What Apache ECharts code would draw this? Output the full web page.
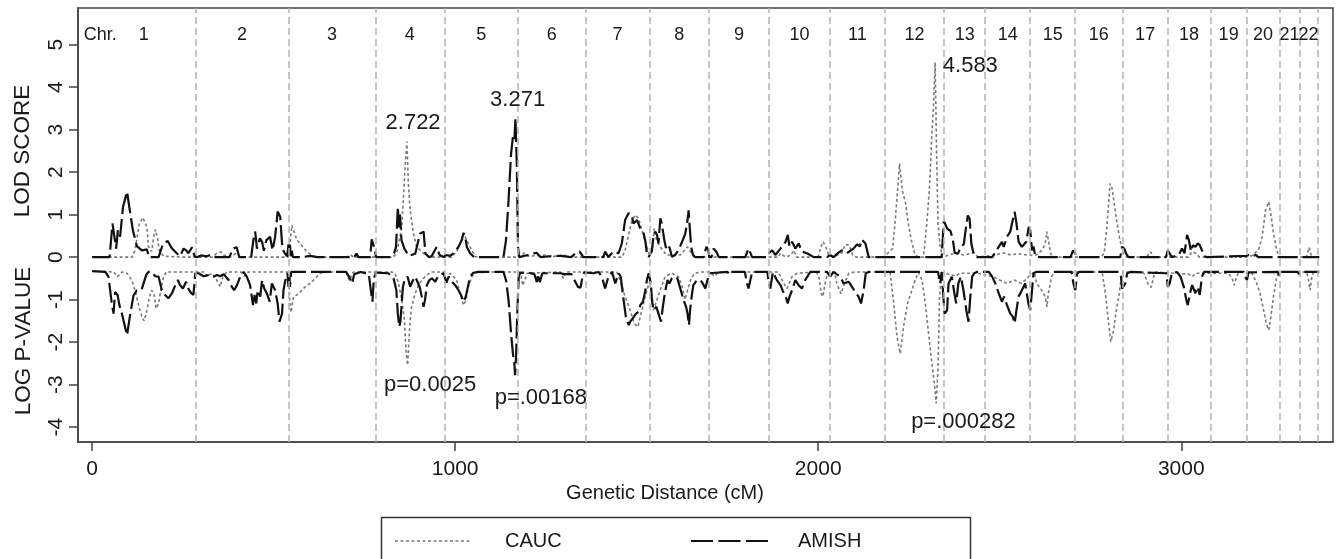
<!DOCTYPE html>
<html>
<head>
<meta charset="utf-8">
<style>
html,body{margin:0;padding:0;background:#fff;}
#chart{width:1339px;height:559px;}
</style>
<script src="https://cdn.jsdelivr.net/npm/echarts@6/dist/echarts.min.js"></script>
</head>
<body>
<div id="chart"></div>
<script>
// ---------- DATA ----------
const chrNames = ['1','2','3','4','5','6','7','8','9','10','11','12','13','14','15','16','17','18','19','20','21','22'];
// chromosome end positions (cM)
const chrBounds = [284,542,780,970,1173,1359,1535,1699,1864,2033,2183,2347,2460,2584,2708,2838,2963,3080,3181,3270,3326,3375];
const chrTitle = ['Chr.', 22];

const xTicks = [0,1000,2000,3000];
const yTicks = [-4,-3,-2,-1,0,1,2,3,4,5];
const seriesNames = ['CAUC', 'AMISH'];

// LOD score, AMISH
const amishLod = [
[0,0],[48,0],[56,0.79],[62,0.44],[66,0.2],[71,0.64],[77,0.48],[85,1.18],[96,1.54],[105,1.03],[112,0.64],[123,0.26],[137,0.16],[151,0.18],[156,0],[183,0],[195,0.31],[208,0.38],[220,0.2],[233,0.09],[242,0.02],[252,0.2],[259,0.16],[265,0.09],[275,0.23],[282,0.02],
[290,0],[300,0.04],[315,0.02],[330,0.06],[340,0],[378,0],[388,0.2],[398,0.23],[405,0],[438,0],[444,0.4],[449,0.6],[454,0.2],[462,0.44],[468,0.36],[473,0.15],[480,0.4],[490,0.48],[497,0.16],[504,0.48],[511,1.07],[518,0.95],[524,0.2],[530,0.1],[537,0.02],[541,0.3],[543,0.05],[545,0.28],[547,0.02],[550,0.15],[553,0],
[580,0],[600,0.03],[620,0],[700,0],[722,0],[728,0.08],[734,0],[766,0],[770,0.42],[774,0.45],[778,0.2],[782,0],
[820,0],[832,0.1],[837,0.24],[842,1.18],[845,0.7],[848,1.0],[852,0.4],[860,0.2],[872,0.03],[890,0.08],[903,0.55],[913,0.6],[918,0.08],[928,0],[935,0.02],[949,0.24],[957,0.05],[968,0],
[975,0.05],[986,0.03],[997,0.1],[1009,0.24],[1018,0.4],[1023,0.57],[1027,0.5],[1032,0.24],[1041,0.09],[1052,0],[1133,0],[1140,0.4],[1147,1.34],[1154,2.44],[1159,2.83],[1163,2.75],[1166,3.27],[1170,2.1],[1173,0.24],[1176,0],
[1200,0.05],[1210,0.08],[1225,0.1],[1235,0],[1260,0.02],[1290,0.03],[1320,0],[1332,0.1],[1343,0.13],[1353,0],
[1408,0],[1413,0.13],[1422,0],[1436,0.13],[1450,0.09],[1459,0.32],[1468,0.87],[1478,1.04],[1487,0.95],[1491,0.79],[1501,0.87],[1510,0.67],[1514,0.71],[1519,0.56],[1524,0.36],[1528,0.09],[1533,0],
[1542,0.16],[1546,0.48],[1551,0.6],[1556,0.52],[1560,0.32],[1565,0.91],[1569,0.79],[1576,0.4],[1582,0.16],[1585,0.13],[1590,0.24],[1597,0.01],[1606,0.05],[1615,0.16],[1625,0.36],[1634,0.56],[1640,0.87],[1643,1.1],[1646,0.71],[1650,0.24],[1655,0.05],[1661,0],[1684,0],[1692,0.24],[1697,0.18],[1700,0],
[1706,0],[1712,0.2],[1719,0.13],[1726,0],[1799,0],[1808,0.2],[1818,0],[1858,0],
[1864,0.09],[1873,0.16],[1882,0.05],[1896,0.2],[1910,0.36],[1916,0.52],[1921,0.24],[1928,0.36],[1937,0.2],[1946,0.32],[1955,0.13],[1969,0.09],[1988,0],[2024,0],[2033,0.05],
[2042,0],[2055,0.1],[2065,0.16],[2079,0.09],[2090,0.16],[2097,0.2],[2107,0.3],[2115,0.25],[2120,0.41],[2130,0.32],[2139,0],[2180,0],[2340,0],
[2344,0],[2346,0.85],[2350,0.83],[2356,0.66],[2364,0.62],[2370,0.45],[2376,0.1],[2385,0.08],[2393,0.25],[2401,0.3],[2407,0.7],[2412,0.98],[2417,0.9],[2422,0.3],[2428,0.08],[2437,0],[2480,0],
[2483,0.05],[2497,0.24],[2506,0.36],[2511,0.24],[2520,0.48],[2529,0.6],[2536,0.87],[2541,1.07],[2546,0.8],[2552,0.36],[2561,0.24],[2573,0.36],[2580,0.71],[2584,0.63],[2589,0.16],[2593,0.25],[2598,0.02],[2610,0],
[2695,0],[2702,0.16],[2707,0.1],[2712,0],
[2832,0],[2837,0.24],[2843,0.2],[2850,0.05],[2855,0],
[2958,0],[2963,0.16],[2968,0.13],[2974,0],[2993,0.05],[3002,0.2],[3009,0.09],[3016,0.52],[3021,0.4],[3027,0.13],[3032,0.28],[3039,0.24],[3045,0.32],[3051,0.28],[3057,0.16],[3063,0.02],[3071,0],
[3180,0.03],[3186,0.05],[3195,0.02],[3205,0.05],[3212,0],[3380,0]
];

// LOD score, CAUC
const caucLod = [
[0,0],[110,0],[118,0.16],[130,0.79],[140,0.93],[151,0.7],[155,0.25],[164,0.13],[170,0.5],[174,0.65],[180,0.45],[185,0.15],[197,0.02],[250,0],
[330,0],[345,0.1],[355,0.12],[362,0.05],[380,0],[395,0.08],[410,0],[540,0],[545,0.3],[550,0.75],[556,0.6],[564,0.4],[573,0.32],[591,0.13],[610,0.02],[620,0],
[700,0],[712,0.05],[720,0],
[830,0],[839,0.1],[853,0.71],[862,2.13],[867,2.72],[871,1.73],[876,1.1],[885,0.56],[894,0.24],[912,0.09],[931,0],
[990,0],[1004,0.13],[1018,0.4],[1027,0.48],[1041,0.24],[1055,0.01],[1080,0],
[1180,0],[1190,0.1],[1200,0.02],[1250,0.05],[1260,0],[1300,0.05],[1310,0],[1360,0],
[1460,0],[1468,0.16],[1487,0.87],[1496,0.99],[1505,0.91],[1514,0.64],[1524,0.36],[1533,0.09],
[1542,0.08],[1548,0.67],[1551,0.48],[1565,0.24],[1582,0.05],[1620,0.05],[1640,0.24],[1650,0.1],[1660,0],
[1890,0],[1896,0.09],[1910,0],[1925,0.05],[1933,0.16],[1940,0],[2000,0],[2006,0.2],[2013,0.36],[2019,0.28],[2029,0.05],
[2040,0],[2065,0.1],[2075,0.3],[2085,0.28],[2095,0.05],[2105,0],
[2180,0],[2205,0.2],[2213,0.95],[2224,2.2],[2232,1.55],[2240,1.3],[2248,0.8],[2255,0.45],[2265,0.1],[2274,0],[2290,0],[2299,0.79],[2304,1.34],[2308,1.89],[2313,2.9],[2317,3.46],[2322,4.58],[2326,2.5],[2330,0.8],[2335,0.3],[2342,0],
[2380,0.1],[2400,0.05],[2430,0.1],[2440,0],
[2490,0.05],[2510,0.1],[2530,0.05],[2550,0.08],[2575,0.05],[2600,0.05],[2615,0.15],[2625,0.3],[2630,0.6],[2634,0.4],[2640,0.1],[2645,0],
[2780,0],[2788,0.1],[2795,0.71],[2804,1.73],[2810,1.6],[2813,1.4],[2822,0.87],[2831,0.4],[2841,0.09],[2850,0],
[2905,0],[2915,0.13],[2925,0],
[3020,0],[3030,0.13],[3040,0.09],[3050,0],
[3140,0],[3145,0.05],[3150,0],
[3181,0],[3199,0.05],[3214,0.2],[3223,0.48],[3232,1.1],[3241,1.3],[3247,1.0],[3254,0.56],[3263,0.16],[3270,0],
[3345,0],[3352,0.23],[3358,0.05],[3362,0],[3380,0]
];

// log p-value (shown below the LOD panel), AMISH
const amishLogP = [
[0,-0.33],[36,-0.35],[45,-0.46],[54,-1.09],[59,-1.33],[63,-0.82],[70,-0.89],[75,-1.13],[82,-1.33],[96,-1.84],[105,-1.33],[114,-0.9],[123,-0.78],[130,-0.79],[137,-0.74],[141,-0.78],[149,-0.42],[155,-0.35],[164,-0.35],[174,-0.45],[183,-0.46],[192,-0.78],[201,-0.89],[210,-0.97],[220,-0.85],[229,-0.66],[236,-0.54],[242,-0.66],[250,-0.74],[259,-0.58],[265,-0.74],[273,-0.85],[279,-0.89],[284,-0.38],
[293,-0.38],[307,-0.45],[321,-0.42],[334,-0.46],[344,-0.42],[353,-0.45],[362,-0.4],[376,-0.54],[385,-0.7],[391,-0.78],[399,-0.66],[408,-0.46],[417,-0.35],[426,-0.46],[435,-0.66],[443,-1.13],[446,-0.85],[452,-1.09],[456,-0.78],[463,-0.93],[468,-0.54],[474,-0.74],[481,-0.85],[489,-1.05],[495,-0.62],[504,-0.78],[511,-1.09],[516,-1.52],[523,-1.33],[527,-0.78],[534,-0.46],[538,-0.38],[541,-0.7],[543,-0.4],[545,-0.7],[548,-0.35],
[600,-0.35],[700,-0.35],[710,-0.5],[716,-0.62],[722,-0.4],[740,-0.35],[762,-0.4],[768,-0.8],[772,-1.05],[776,-0.5],[782,-0.36],
[793,-0.37],[816,-0.38],[830,-0.5],[838,-0.78],[842,-1.33],[846,-1.64],[849,-1.52],[852,-1.17],[856,-0.7],[862,-0.5],[869,-0.46],[876,-0.7],[884,-0.54],[890,-0.46],[896,-0.58],[902,-0.7],[908,-0.93],[913,-1.17],[917,-1.0],[922,-0.66],[929,-0.54],[936,-0.5],[945,-0.58],[952,-0.46],[959,-0.42],[968,-0.38],
[973,-0.42],[976,-0.6],[982,-0.46],[991,-0.58],[1000,-0.66],[1009,-0.78],[1016,-0.89],[1023,-1.05],[1029,-0.93],[1035,-0.7],[1041,-0.46],[1050,-0.37],[1060,-0.35],[1133,-0.35],[1140,-0.54],[1147,-1.01],[1154,-1.8],[1159,-2.27],[1163,-2.5],[1165,-2.78],[1168,-2.27],[1171,-1.33],[1175,-0.46],[1179,-0.37],
[1200,-0.36],[1218,-0.4],[1225,-0.59],[1229,-0.4],[1233,-0.59],[1240,-0.38],[1290,-0.38],[1300,-0.4],[1320,-0.4],[1332,-0.6],[1338,-0.7],[1345,-0.72],[1350,-0.5],[1355,-0.36],
[1381,-0.38],[1395,-0.35],[1404,-0.46],[1413,-0.74],[1422,-0.46],[1432,-0.35],[1441,-0.62],[1450,-0.38],[1456,-0.46],[1464,-1.01],[1470,-1.4],[1478,-1.6],[1482,-1.52],[1489,-1.44],[1493,-1.48],[1498,-1.33],[1505,-1.29],[1510,-1.13],[1517,-1.05],[1524,-0.78],[1528,-0.54],[1533,-0.38],
[1539,-0.62],[1542,-1.01],[1546,-1.25],[1554,-1.17],[1560,-1.33],[1567,-1.52],[1572,-1.17],[1578,-0.82],[1585,-0.54],[1590,-0.62],[1597,-0.5],[1606,-0.46],[1612,-0.5],[1620,-0.74],[1629,-1.01],[1636,-1.17],[1640,-1.33],[1644,-1.6],[1647,-1.25],[1652,-0.89],[1656,-0.66],[1666,-0.54],[1675,-0.54],[1682,-0.62],[1689,-0.74],[1695,-0.54],[1700,-0.38],
[1750,-0.35],[1758,-0.42],[1763,-0.35],[1798,-0.35],[1804,-0.62],[1808,-0.74],[1813,-0.54],[1818,-0.35],[1860,-0.35],
[1864,-0.62],[1868,-0.74],[1875,-0.35],[1886,-0.54],[1896,-0.66],[1905,-0.85],[1912,-0.97],[1916,-1.09],[1921,-0.93],[1928,-0.78],[1937,-0.54],[1946,-0.66],[1955,-0.74],[1964,-0.54],[1978,-0.35],[2024,-0.35],[2033,-0.46],
[2042,-0.35],[2061,-0.46],[2070,-0.62],[2084,-0.58],[2093,-0.7],[2102,-0.82],[2111,-0.93],[2118,-1.09],[2125,-0.78],[2131,-0.38],[2139,-0.35],[2330,-0.35],
[2336,-0.62],[2340,-0.35],[2345,-0.35],[2348,-1.33],[2355,-1.25],[2359,-0.62],[2368,-0.46],[2375,-0.85],[2380,-1.09],[2386,-0.62],[2393,-0.46],[2400,-0.78],[2408,-1.25],[2414,-1.52],[2419,-0.93],[2424,-0.46],[2430,-0.38],[2437,-0.35],
[2470,-0.35],[2479,-0.46],[2488,-0.62],[2497,-0.85],[2506,-1.05],[2512,-0.93],[2520,-1.13],[2529,-1.33],[2536,-1.4],[2541,-1.56],[2546,-1.25],[2552,-0.93],[2561,-0.78],[2570,-0.62],[2579,-1.09],[2584,-1.25],[2589,-0.78],[2593,-0.38],[2600,-0.35],
[2698,-0.35],[2703,-0.62],[2708,-0.78],[2713,-0.4],[2718,-0.35],
[2830,-0.35],[2834,-0.46],[2837,-0.74],[2842,-0.78],[2846,-0.62],[2851,-0.38],[2860,-0.35],
[2959,-0.38],[2963,-0.7],[2968,-0.62],[2974,-0.38],[2988,-0.35],[2998,-0.46],[3007,-0.7],[3014,-1.01],[3018,-1.13],[3024,-0.85],[3030,-0.66],[3039,-0.85],[3045,-0.7],[3051,-0.89],[3057,-0.46],[3063,-0.35],
[3172,-0.35],[3176,-0.46],[3181,-0.54],[3185,-0.36],[3266,-0.35],[3271,-0.45],[3275,-0.35],[3320,-0.35],[3325,-0.4],[3330,-0.35],[3380,-0.35]
];

// log p-value, CAUC
const caucLogP = [
[0,-0.33],[60,-0.35],[68,-0.46],[75,-0.42],[82,-0.35],[96,-0.38],[109,-0.54],[118,-0.78],[128,-1.13],[137,-1.4],[143,-1.5],[151,-1.25],[158,-0.93],[164,-0.78],[171,-0.89],[176,-1.21],[183,-1.09],[189,-0.78],[197,-0.46],[204,-0.35],
[310,-0.35],[316,-0.46],[330,-0.38],[343,-0.54],[353,-0.7],[360,-0.46],[371,-0.35],[410,-0.35],[420,-0.45],[430,-0.35],[538,-0.35],
[542,-0.6],[545,-1.1],[548,-1.3],[552,-1.05],[555,-0.93],[564,-0.89],[573,-0.82],[582,-0.74],[591,-0.66],[601,-0.62],[610,-0.54],[619,-0.46],[628,-0.38],[640,-0.35],
[700,-0.35],[705,-0.5],[710,-0.55],[715,-0.4],[720,-0.35],
[825,-0.35],[834,-0.38],[844,-0.62],[853,-1.01],[860,-1.48],[865,-2.27],[869,-2.54],[872,-2.03],[876,-1.48],[880,-1.17],[890,-0.85],[899,-0.66],[908,-0.54],[922,-0.42],[935,-0.35],
[968,-0.35],[973,-0.54],[980,-0.5],[986,-0.38],[1004,-0.54],[1013,-0.85],[1023,-1.13],[1030,-1.01],[1036,-0.7],[1046,-0.46],[1055,-0.37],[1100,-0.35],
[1180,-0.35],[1186,-0.67],[1192,-0.54],[1198,-0.38],[1290,-0.35],[1298,-0.5],[1305,-0.35],
[1445,-0.35],[1454,-0.54],[1468,-0.93],[1482,-1.25],[1493,-1.56],[1503,-1.64],[1510,-1.4],[1519,-1.09],[1528,-0.78],[1537,-0.54],
[1542,-0.9],[1546,-1.25],[1552,-1.1],[1560,-0.89],[1578,-0.46],[1597,-0.38],[1615,-0.46],[1625,-0.7],[1633,-1.0],[1640,-0.78],[1650,-0.5],[1660,-0.38],[1680,-0.35],
[1700,-0.35],[1715,-0.45],[1725,-0.35],
[1890,-0.35],[1896,-0.46],[1905,-0.62],[1914,-0.74],[1928,-0.46],[1942,-0.38],[1995,-0.35],[2002,-0.46],[2008,-0.85],[2013,-0.93],[2019,-0.62],[2026,-0.38],
[2045,-0.35],[2051,-0.62],[2063,-0.86],[2072,-0.62],[2084,-0.38],[2100,-0.35],
[2190,-0.35],[2198,-0.36],[2207,-1.01],[2217,-1.87],[2226,-2.27],[2235,-1.64],[2246,-1.09],[2258,-0.78],[2267,-0.54],[2276,-0.36],[2286,-0.54],[2295,-1.09],[2304,-1.8],[2313,-2.5],[2320,-2.97],[2325,-3.44],[2330,-2.58],[2334,-1.0],[2339,-0.36],
[2380,-0.45],[2390,-0.38],[2440,-0.38],[2480,-0.46],[2500,-0.54],[2520,-0.62],[2540,-0.54],[2560,-0.62],[2580,-0.46],[2595,-0.35],
[2602,-0.62],[2616,-0.78],[2625,-0.93],[2630,-1.17],[2634,-0.85],[2643,-0.46],[2650,-0.35],
[2782,-0.35],[2791,-0.85],[2800,-1.56],[2806,-1.99],[2814,-1.72],[2821,-1.25],[2828,-0.93],[2834,-0.54],[2840,-0.35],
[2895,-0.35],[2901,-0.46],[2910,-0.66],[2917,-0.71],[2924,-0.46],[2929,-0.35],
[3020,-0.4],[3030,-0.46],[3040,-0.38],[3130,-0.38],[3140,-0.5],[3146,-0.66],[3152,-0.46],[3160,-0.35],
[3195,-0.38],[3208,-0.62],[3217,-0.85],[3227,-1.25],[3234,-1.56],[3241,-1.72],[3247,-1.4],[3254,-0.93],[3263,-0.46],[3271,-0.35],
[3345,-0.35],[3350,-0.5],[3355,-0.78],[3360,-0.45],[3365,-0.35],[3380,-0.35]
];

// peak annotations [cM, value, text]
const annotations = [
[884, 3.15, '2.722'],
[1172, 3.69, '3.271'],
[2419, 4.5, '4.583'],
[931, -3.01, 'p=0.0025'],
[1236, -3.32, 'p=.00168'],
[2400, -3.87, 'p=.000282']
];
const chrLabelLevel = 5.22;

// ---------- BUILD ----------
const FONT = 'Liberation Sans, Arial, Helvetica, sans-serif';
const TXT = '#1a1a1a';
const byX = (a, b) => a[0] - b[0];
const chrLabelData = [[chrTitle[1], chrLabelLevel, chrTitle[0]]];
let prev = 0;
chrBounds.forEach((b, i) => { chrLabelData.push([(prev + b) / 2, chrLabelLevel, chrNames[i]]); prev = b; });

const AMISH_COLOR = '#111';
const CAUC_COLOR = '#7a7a7a';
const AMISH_STYLE = { color: AMISH_COLOR, width: 2.2, type: [20, 5] };
const CAUC_STYLE = { color: CAUC_COLOR, width: 1.6, type: [3, 2.5] };

const labelStyle = (size) => ({
  show: true, position: 'inside', formatter: p => p.data[2], fontSize: size, color: TXT,
  fontFamily: FONT, textBorderWidth: 0, opacity: 1
});

const chart = echarts.init(document.getElementById('chart'), null, { renderer: 'canvas' });
chart.setOption({
  animation: false,
  backgroundColor: '#fff',
  textStyle: { fontFamily: FONT },
  legend: { show: false },
  grid: { left: 78, right: 6, top: 8, bottom: 117, show: true, borderColor: '#444', borderWidth: 1.5, backgroundColor: 'transparent' },
  xAxis: {
    type: 'value', min: -39, max: 3418,
    splitLine: { show: false },
    axisLine: { show: true, onZero: false, lineStyle: { color: '#444', width: 1.5 } },
    axisTick: { show: true, length: 9, lineStyle: { color: '#444', width: 1.5 }, customValues: xTicks },
    axisLabel: { fontSize: 21, color: TXT, margin: 17, customValues: xTicks, fontFamily: FONT, formatter: v => String(v) }
  },
  yAxis: {
    type: 'value', min: -4.35, max: 5.86,
    splitLine: { show: false },
    axisLine: { show: true, onZero: false, lineStyle: { color: '#444', width: 1.5 } },
    axisTick: { show: true, length: 9, lineStyle: { color: '#444', width: 1.5 }, customValues: yTicks },
    axisLabel: { fontSize: 21, color: TXT, margin: 11, rotate: 90, customValues: yTicks, fontFamily: FONT, formatter: v => String(v) }
  },
  graphic: [
    { type: 'rect', left: 379, top: 515, shape: { width: 589, height: 70 }, style: { fill: 'none', stroke: '#333', lineWidth: 1.5 }, silent: true },
    { type: 'line', shape: { x1: 395, y1: 541, x2: 472, y2: 541 }, style: { stroke: CAUC_COLOR, lineWidth: 1.6, lineDash: [3, 2.5] }, silent: true },
    { type: 'text', x: 505, y: 541, style: { text: seriesNames[0], font: '20px ' + FONT, fill: TXT, align: 'left', verticalAlign: 'middle' } },
    { type: 'line', shape: { x1: 691, y1: 541, x2: 768, y2: 541 }, style: { stroke: AMISH_COLOR, lineWidth: 2.2, lineDash: [22, 5.5] }, silent: true },
    { type: 'text', x: 798, y: 541, style: { text: seriesNames[1], font: '20px ' + FONT, fill: TXT, align: 'left', verticalAlign: 'middle' } },
    { type: 'text', x: 665, y: 493, style: { text: 'Genetic Distance (cM)', font: '20px ' + FONT, fill: TXT, align: 'center', verticalAlign: 'middle' } },
    { type: 'text', x: 23, y: 151, rotation: Math.PI / 2, style: { text: 'LOD SCORE', font: '22.5px ' + FONT, fill: TXT, align: 'center', verticalAlign: 'middle' } },
    { type: 'text', x: 24, y: 341, rotation: Math.PI / 2, style: { text: 'LOG P-VALUE', font: '22.5px ' + FONT, fill: TXT, align: 'center', verticalAlign: 'middle' } }
  ],
  series: [
    {
      name: seriesNames[0], type: 'line', data: caucLod.slice().sort(byX), symbol: 'none', lineStyle: CAUC_STYLE, itemStyle: { color: CAUC_COLOR }, z: 2,
      markLine: {
        silent: true, symbol: ['none', 'none'], label: { show: false },
        lineStyle: { color: '#b3b3b3', width: 1.5, type: [7, 4] },
        data: chrBounds.map(b => ({ xAxis: b }))
      }
    },
    { name: seriesNames[0], type: 'line', data: caucLogP.slice().sort(byX), symbol: 'none', lineStyle: CAUC_STYLE, itemStyle: { color: CAUC_COLOR }, z: 2 },
    { name: seriesNames[1], type: 'line', data: amishLod.slice().sort(byX), symbol: 'none', lineStyle: AMISH_STYLE, itemStyle: { color: AMISH_COLOR }, z: 3 },
    { name: seriesNames[1], type: 'line', data: amishLogP.slice().sort(byX), symbol: 'none', lineStyle: AMISH_STYLE, itemStyle: { color: AMISH_COLOR }, z: 3 },
    { name: 'chromosomes', type: 'scatter', data: chrLabelData, symbolSize: 1, itemStyle: { color: 'rgba(255,255,255,0)' }, z: 5, label: labelStyle(18) },
    { name: 'peaks', type: 'scatter', data: annotations, symbolSize: 1, itemStyle: { color: 'rgba(255,255,255,0)' }, z: 5, label: labelStyle(22) }
  ]
});
</script>
</body>
</html>
